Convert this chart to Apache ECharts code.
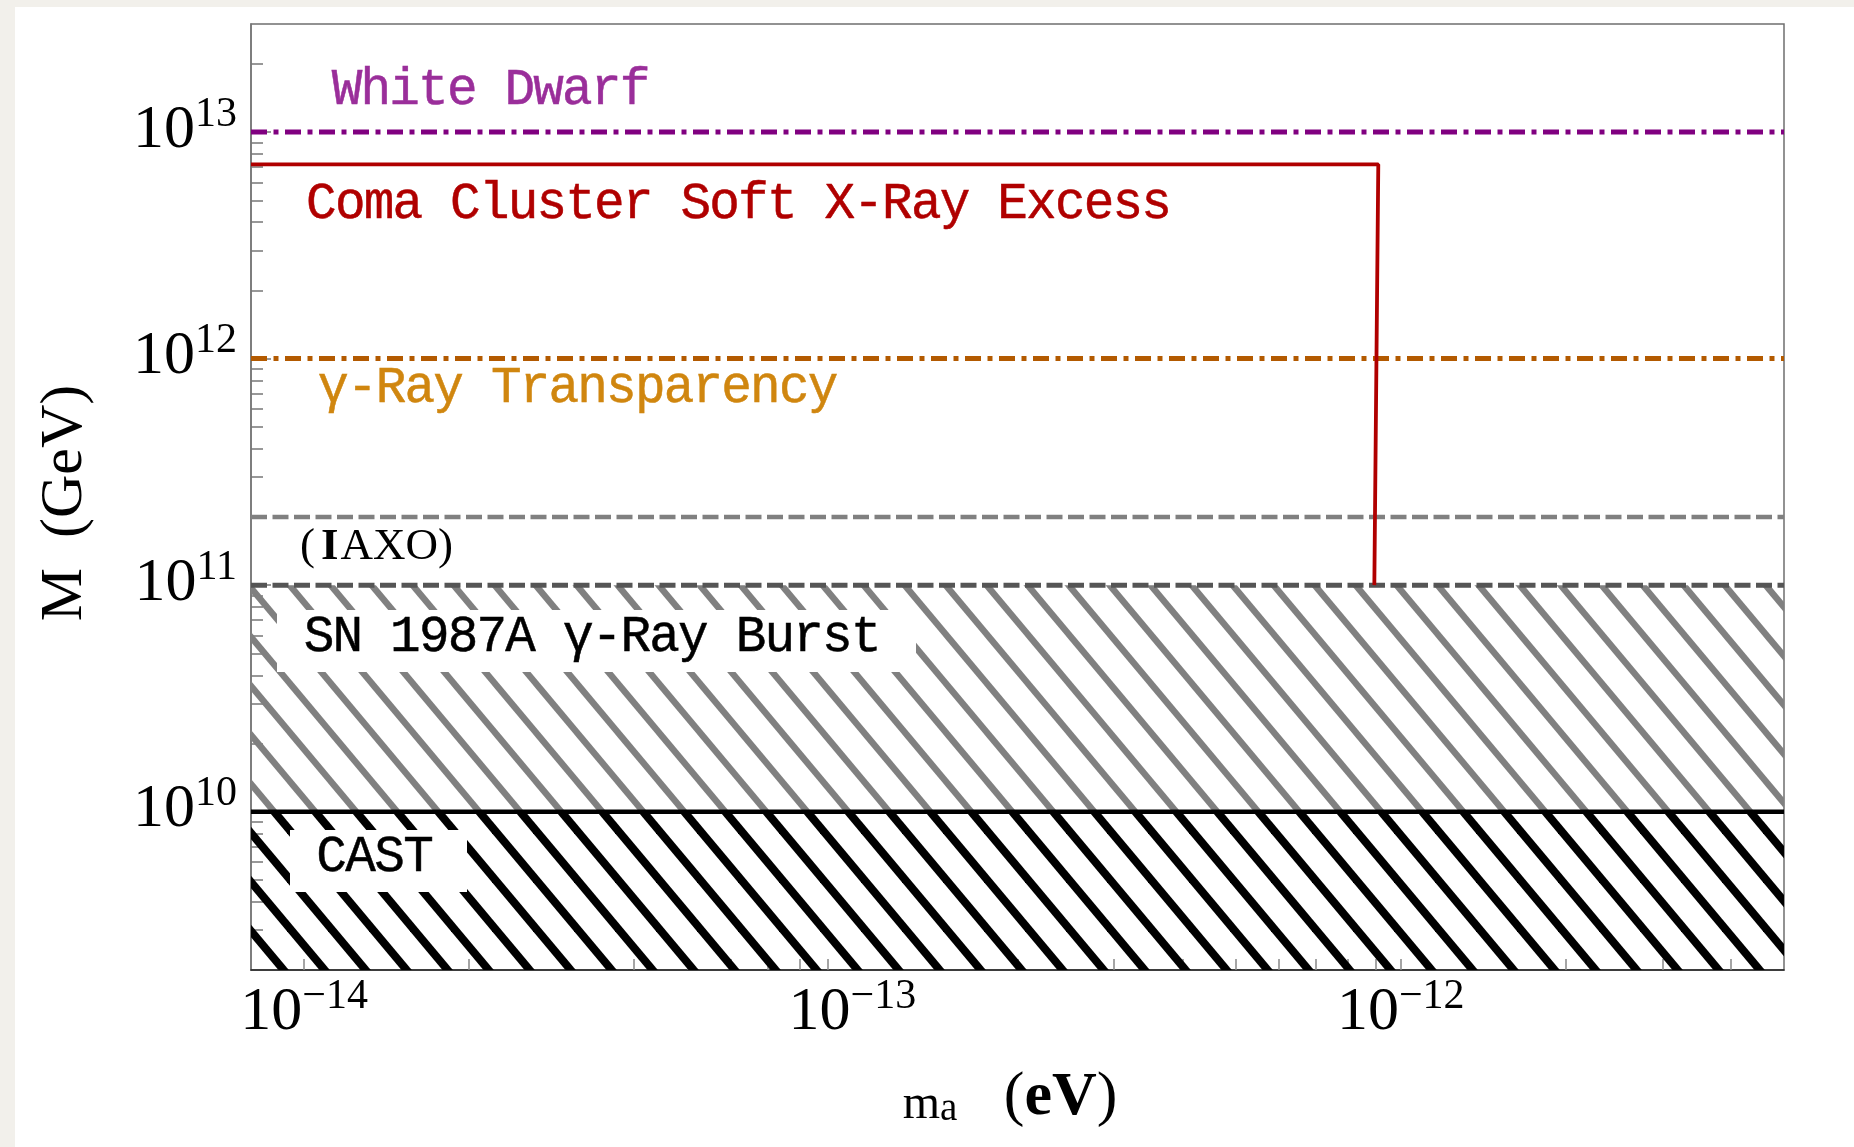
<!DOCTYPE html>
<html><head><meta charset="utf-8">
<script src="https://cdn.jsdelivr.net/npm/echarts@6/dist/echarts.min.js"></script>
<style>html,body{margin:0;padding:0;background:#f2f0eb;}#c{width:1854px;height:1147px;}</style>
</head><body><div id="c"></div>
<script>
// ---- data ----
const xRange = [8e-15, 5e-12];          // m_a (eV)
const yRange = [2e9, 3e13];             // M (GeV)
const xMajorTicks = [1e-14, 1e-13, 1e-12];
const yMajorTicks = [1e10, 1e11, 1e12, 1e13];
const whiteDwarfM = 1e13;
const gammaTransparencyM = 1e12;
const iaxoM = 2e11;
const sn1987aBand = [1e10, 1e11];
const castBand = [2e9, 1e10];
const comaX = [8e-15, 9.1e-13, 8.95e-13];
const comaY = [7.2e12, 7.2e12, 1e11];

function minorTicks(lo, hi) {
  const out = [];
  for (let e = Math.floor(Math.log10(lo)); e <= Math.ceil(Math.log10(hi)); e++) {
    for (let m = 2; m <= 9; m++) {
      const v = m * Math.pow(10, e);
      if (v > lo * 1.001 && v < hi * 0.999) out.push(v);
    }
  }
  return out;
}
const xMinor = minorTicks(xRange[0], xRange[1]);
const yMinor = minorTicks(yRange[0], yRange[1]);

function hatch(color, width, phase) {
  const W = 41, H = 49;
  const c = document.createElement('canvas');
  c.width = W; c.height = H;
  const g = c.getContext('2d');
  g.strokeStyle = color; g.lineWidth = width; g.lineCap = 'butt';
  for (let k = -3; k <= 3; k++) {
    g.beginPath();
    g.moveTo(phase + k * W - W, -H);
    g.lineTo(phase + k * W + 2 * W, 2 * H);
    g.stroke();
  }
  return { image: c, repeat: 'repeat' };
}

const SERIF = 'Liberation Serif';
const MONO = 'Liberation Mono';
const supRich = {
  b: { fontSize: 62, fontFamily: SERIF, lineHeight: 68, verticalAlign: 'bottom', color: '#000' },
  s: { fontSize: 42, fontFamily: SERIF, verticalAlign: 'top', color: '#000' }
};
function expOf(v) { return Math.round(Math.log10(v)); }

function mono(str) { return str.split('').map(ch => '{c|' + ch + '}').join(''); }
function annot(str, x, y, color, cell) {
  return {
    type: 'text', x: x, y: y, z: 61, silent: true,
    style: {
      text: mono(str), align: 'left', verticalAlign: 'middle', fill: color,
      rich: { c: { width: cell || 28.8, align: 'center', fontSize: 51, fontFamily: MONO, fill: color, stroke: color, lineWidth: 0.5 } }
    }
  };
}

const chart = echarts.init(document.getElementById('c'), null, { renderer: 'canvas' });
const hLine = v => [[xRange[0], v], [xRange[1], v]];

chart.setOption({
  backgroundColor: '#f2f0eb',
  animation: false,
  grid: { left: 251, top: 24, width: 1533, height: 946, show: true, borderColor: '#6f6f6f', borderWidth: 1.5, backgroundColor: 'transparent', containLabel: false },
  xAxis: [
    {
      type: 'log', logBase: 10, min: xRange[0], max: xRange[1], position: 'bottom',
      axisLine: { show: true, lineStyle: { color: '#222', width: 1.5 } },
      axisTick: { show: true, inside: true, length: 11, customValues: xMajorTicks, lineStyle: { color: '#888', width: 1.5 } },
      axisLabel: { customValues: xMajorTicks, margin: 6, formatter: v => '{b|10}{s|\u2212' + (-expOf(v)) + '}', rich: supRich },
      splitLine: { show: false },
      name: '{m|m}{sub|a}{n|   (}{bd|eV}{n|)}', nameLocation: 'middle', nameGap: 101,
      nameTextStyle: { padding: [0, 15, 0, 0], rich: {
        m: { fontSize: 48, fontFamily: SERIF, lineHeight: 51, verticalAlign: 'bottom', color: '#000' },
        sub: { fontSize: 39, fontFamily: SERIF, lineHeight: 31, verticalAlign: 'bottom', color: '#000' },
        n: { fontSize: 62, fontFamily: SERIF, lineHeight: 58, verticalAlign: 'bottom', color: '#000' },
        bd: { fontSize: 62, fontFamily: SERIF, fontWeight: 'bold', lineHeight: 58, verticalAlign: 'bottom', color: '#000' }
      } }
    },
    {
      type: 'log', logBase: 10, min: xRange[0], max: xRange[1], position: 'bottom', gridIndex: 0,
      axisLine: { show: false },
      axisTick: { show: true, inside: true, length: 11, customValues: xMinor, lineStyle: { color: '#888', width: 1.5 } },
      axisLabel: { show: false }, splitLine: { show: false }
    }
  ],
  yAxis: [
    {
      type: 'log', logBase: 10, min: yRange[0], max: yRange[1], position: 'left',
      axisLine: { show: true, lineStyle: { color: '#777', width: 1.5 } },
      axisTick: { show: true, inside: true, length: 20, customValues: yMajorTicks, lineStyle: { color: '#777', width: 1.5 } },
      axisLabel: { customValues: yMajorTicks, margin: 14, padding: [0, 0, 9, 0], formatter: v => '{b|10}{s|' + expOf(v) + '}', rich: supRich },
      splitLine: { show: false },
      name: 'M  (GeV)', nameLocation: 'middle', nameRotate: 90, nameGap: 156,
      nameTextStyle: { fontSize: 60, fontFamily: SERIF, color: '#000', lineHeight: 60, padding: [0, 12, 0, 0] }
    },
    {
      type: 'log', logBase: 10, min: yRange[0], max: yRange[1], position: 'left', gridIndex: 0,
      axisLine: { show: false },
      axisTick: { show: true, inside: true, length: 12, customValues: yMinor, lineStyle: { color: '#777', width: 1.5 } },
      axisLabel: { show: false }, splitLine: { show: false }
    }
  ],
  series: [
    {
      name: 'CAST', type: 'line', data: hLine(castBand[1]), symbol: 'none', silent: true, z: 5,
      lineStyle: { color: '#000', width: 4.5 },
      markArea: { silent: true, itemStyle: { color: hatch('#000', 8, 5) },
        data: [[{ coord: [xRange[0], castBand[0]] }, { coord: [xRange[1], castBand[1]] }]] }
    },
    {
      name: 'SN 1987A', type: 'line', data: hLine(sn1987aBand[1]), symbol: 'none', silent: true, z: 5,
      lineStyle: { color: '#555', width: 5, type: [16, 5.5] },
      markArea: { silent: true, itemStyle: { color: hatch('#808080', 6.5, 5) },
        data: [[{ coord: [xRange[0], sn1987aBand[0]] }, { coord: [xRange[1], sn1987aBand[1]] }]] }
    },
    { name: 'IAXO', type: 'line', data: hLine(iaxoM), symbol: 'none', silent: true, z: 5,
      lineStyle: { color: '#808080', width: 4.5, type: [16, 5.5] } },
    { name: 'Gamma', type: 'line', data: hLine(gammaTransparencyM), symbol: 'none', silent: true, z: 5,
      lineStyle: { color: '#b35a00', width: 5, type: [16, 6.5, 5, 6.5] } },
    { name: 'WD', type: 'line', data: hLine(whiteDwarfM), symbol: 'none', silent: true, z: 5,
      lineStyle: { color: '#800080', width: 5, type: [16, 6.5, 5, 6.5] } },
    { name: 'Coma', type: 'line', data: comaX.map((x, i) => [x, comaY[i]]), symbol: 'none', silent: true, z: 6,
      lineStyle: { color: '#b00000', width: 3.8 } }
  ],
  graphic: [
    { type: 'rect', z: -10, silent: true, shape: { x: 15, y: 7, width: 1839, height: 1140 }, style: { fill: '#ffffff' } },
    { type: 'rect', z: 60, silent: true, shape: { x: 277, y: 610, width: 639, height: 62 }, style: { fill: '#ffffff' } },
    { type: 'rect', z: 60, silent: true, shape: { x: 290, y: 830, width: 177, height: 62 }, style: { fill: '#ffffff' } },
    annot('White Dwarf', 332.6, 90, '#9a2e9a'),
    annot('Coma Cluster Soft X-Ray Excess', 307, 204, '#b00000'),
    annot('\u03b3-Ray Transparency', 319, 388.5, '#d0860f'),
    annot('SN 1987A \u03b3-Ray Burst', 304.6, 637, '#000'),
    annot('CAST', 317, 857, '#000', 29),
    {
      type: 'text', x: 300, y: 547, z: 61, silent: true,
      style: { text: '{p|(}{i|I}{p|AXO)}', align: 'left', verticalAlign: 'middle', fill: '#000',
        rich: { p: { fontSize: 45, fontFamily: SERIF, fill: '#000' }, i: { fontSize: 45, fontFamily: SERIF, fontWeight: 'bold', fill: '#000', padding: [0, 2, 0, 6] } } }
    }
  ]
});
</script></body></html>
